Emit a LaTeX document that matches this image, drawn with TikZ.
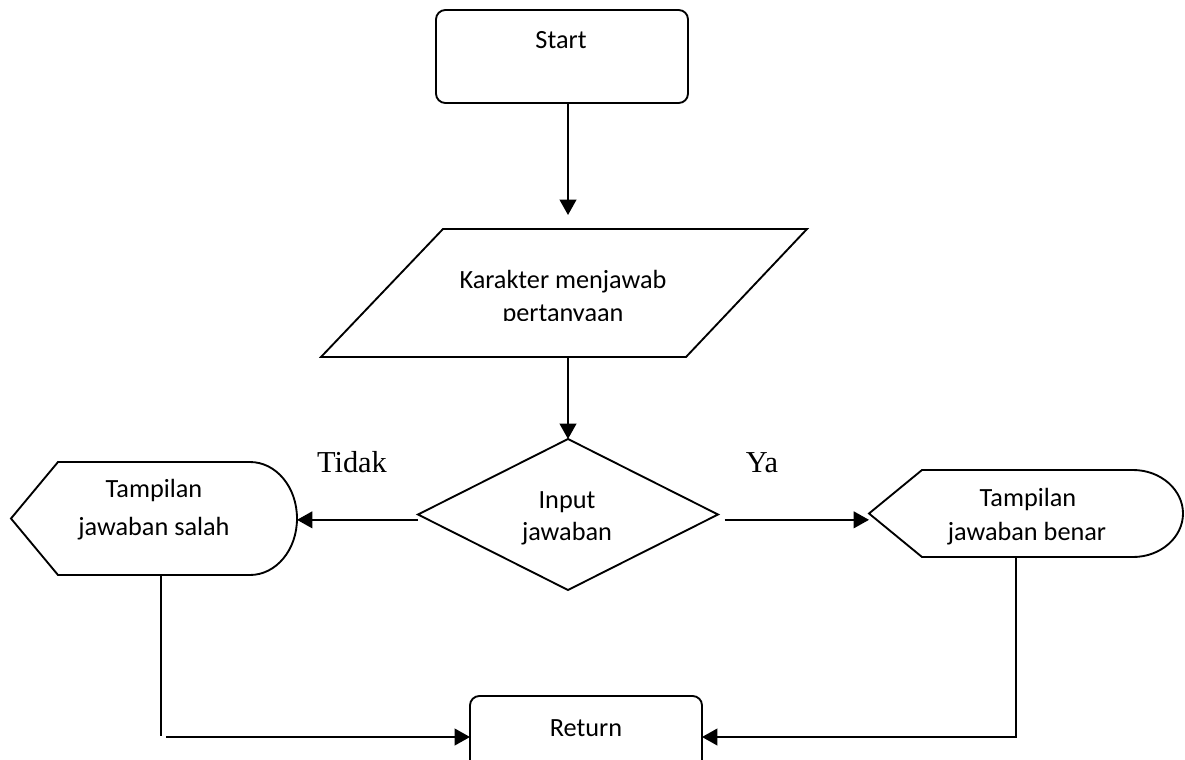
\documentclass[tikz,border=0pt]{standalone}
\usepackage{fontspec}
\setmainfont{Carlito}
\newfontfamily\serifface{Liberation Serif}
\usetikzlibrary{arrows.meta,fit,calc}

\begin{document}
\begin{tikzpicture}[x=0.75pt,y=-0.75pt,
  outline/.style={draw=black, line width=1.4pt, line join=miter},
  conn/.style={draw=black, line width=1.4pt},
  arr/.style={conn, -{Triangle[length=11.5pt,width=12.5pt]}},
  lbl/.style={anchor=base, inner sep=0pt, font=\fontsize{19.7pt}{23pt}\selectfont},
  yn/.style={anchor=base, inner sep=0pt, font=\serifface\fontsize{22.8pt}{27pt}\selectfont},
  frame/.style={inner sep=0pt, outer sep=0pt}]
\useasboundingbox (0,0) rectangle (1185,760);

% Start terminal
\node[frame, fit={(436,10) (688,103)}, outline, rounded corners=7pt] (start) {};
\node[lbl] (startT) at (561,48) {Start};

% Input/output parallelogram
\node[frame, fit={(321,229) (807,357)}] (io) {};
\draw[outline] (443,229) -- (807,229) -- (686,357) -- (321,357) -- cycle;
\node[lbl] (ioA) at (563,288) {Karakter menjawab};
\begin{scope}
  \clip (321,229) rectangle (807,320.5);
  \node[lbl] (ioB) at (563,321) {pertanyaan};
\end{scope}

% Decision
\node[frame, fit={(418,439) (718,590)}] (dec) {};
\draw[outline] (dec.north) -- (dec.east) -- (dec.south) -- (dec.west) -- cycle;
\node[lbl] (decA) at (567,508) {Input};
\node[lbl] (decB) at (567,540) {jawaban};

% Display: wrong answer
\node[frame, fit={(11,462) (297,575)}] (dispL) {};
\draw[outline] (11,518.5) -- (58,462) -- (250,462)
  .. controls (276,462) and (297,487) .. (297,518.5)
  .. controls (297,550) and (276,575) .. (250,575)
  -- (58,575) -- cycle;
\node[lbl] (dispLA) at (154,497.7) {Tampilan};
\node[lbl] (dispLB) at (154,535) {jawaban salah};

% Display: right answer
\node[frame, fit={(869,470) (1183,557)}] (dispR) {};
\draw[outline] (869,513.5) -- (922,470) -- (1133,470)
  .. controls (1161,470) and (1183,490) .. (1183,513.5)
  .. controls (1183,537) and (1161,557) .. (1133,557)
  -- (922,557) -- cycle;
\node[lbl] (dispRA) at (1028,506) {Tampilan};
\node[lbl] (dispRB) at (1027,540) {jawaban benar};

% Return terminal
\begin{scope}
  \clip (0,0) rectangle (1185,760);
  \node[frame, fit={(470,696) (702,778)}, outline, rounded corners=7pt] (ret) {};
\end{scope}
\node[lbl] (retT) at (586,736.7) {Return};

% Branch labels
\node[yn] (no) at (352,472) {Tidak};
\node[yn] (yes) at (762,472) {Ya};

% Connectors
\draw[arr, shorten >=10.5pt] (start.south -| dec.north) -- (io.north -| dec.north);
\draw[arr] (io.south -| dec.north) -- (dec.north);
\draw[arr] ([yshift=-4pt]dec.west) -- ([yshift=-4pt]dec.west -| dispL.east);
\draw[arr, shorten <=5pt] ([yshift=-4pt]dec.east) -- ([yshift=-4pt]dec.east -| dispR.west);

\coordinate (cL) at (161,736);
\coordinate (cL2) at (166,737);
\coordinate (cR) at (1016,737);
\draw[conn] (dispL.south -| cL) -- (cL);
\draw[arr] (cL2) -- (cL2 -| ret.west);
\draw[arr] (dispR.south -| cR) -- (cR) -- (ret.east);
\end{tikzpicture}
\end{document}
